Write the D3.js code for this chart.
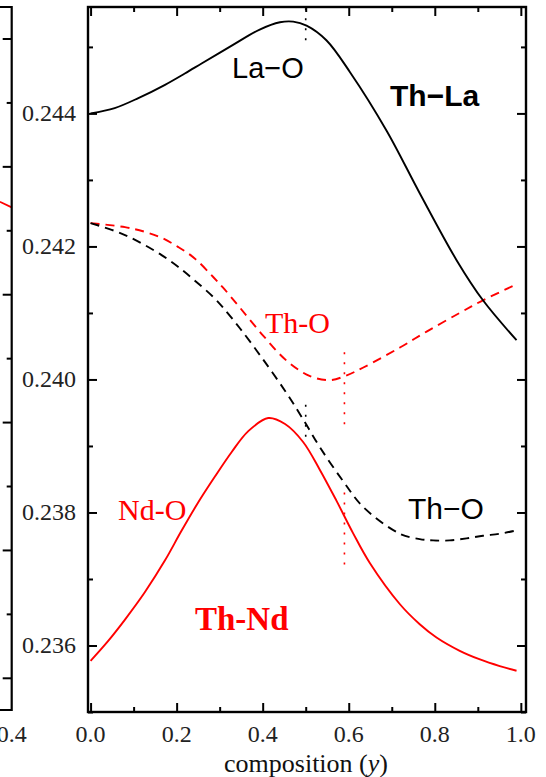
<!DOCTYPE html>
<html>
<head>
<meta charset="utf-8">
<script src="https://cdn.jsdelivr.net/npm/d3@7"></script>
<style>
  html, body { margin: 0; padding: 0; background: #fff; }
  svg { display: block; }
</style>
</head>
<body>
<svg id="chart" width="546" height="777"></svg>
<script>
// ---------- data (composition y, bond length) ----------
const xTicksMajor = [0.0, 0.2, 0.4, 0.6, 0.8, 1.0];
const xTicksMinor = [0.1, 0.3, 0.5, 0.7, 0.9];
const yTicksMajor = [0.236, 0.238, 0.240, 0.242, 0.244];
const yTicksMinor = [0.235, 0.237, 0.239, 0.241, 0.243, 0.245];
const xTickLabels = ["0.0", "0.2", "0.4", "0.6", "0.8", "1.0"];
const yTickLabels = ["0.236", "0.238", "0.240", "0.242", "0.244"];

// Th-La : La-O (black solid)
const laO_x = [0, 0.056, 0.111, 0.173, 0.219, 0.258, 0.331, 0.393, 0.440, 0.471, 0.502, 0.548, 0.603, 0.688, 0.765, 0.851, 0.912, 0.990];
const laO_y = [0.24400, 0.24408, 0.24423, 0.24443, 0.24460, 0.24475, 0.24503, 0.24526, 0.24537, 0.24538, 0.24532, 0.24510, 0.24462, 0.24374, 0.24280, 0.24179, 0.24119, 0.24059];

// Th-La : Th-O (black dashed)
const thOLa_x = [0, 0.049, 0.087, 0.126, 0.165, 0.204, 0.238, 0.285, 0.308, 0.347, 0.401, 0.456, 0.494, 0.533, 0.587, 0.634, 0.719, 0.765, 0.796, 0.835, 0.874, 0.912, 0.951, 0.990];
const thOLa_y = [0.24235, 0.24225, 0.24215, 0.24202, 0.24187, 0.24169, 0.24151, 0.24124, 0.24108, 0.24077, 0.24030, 0.23979, 0.23940, 0.23898, 0.23847, 0.23808, 0.23768, 0.23760, 0.23758, 0.23758, 0.23761, 0.23765, 0.23768, 0.23773];

// Th-Nd : Th-O (red dashed)
const thONd_x = [0, 0.080, 0.126, 0.165, 0.204, 0.242, 0.285, 0.308, 0.347, 0.401, 0.456, 0.510, 0.556, 0.591, 0.634, 0.719, 0.781, 0.858, 0.912, 0.990];
const thONd_y = [0.24235, 0.24229, 0.24222, 0.24213, 0.24199, 0.24182, 0.24154, 0.24138, 0.24108, 0.24066, 0.24028, 0.24005, 0.23999, 0.24005, 0.24018, 0.24048, 0.24072, 0.24100, 0.24119, 0.24143];

// Th-Nd : Nd-O (red solid)
const ndO_x = [0, 0.041, 0.080, 0.126, 0.173, 0.211, 0.250, 0.289, 0.328, 0.366, 0.413, 0.452, 0.494, 0.533, 0.572, 0.610, 0.649, 0.719, 0.765, 0.804, 0.858, 0.905, 0.951, 0.990];
const ndO_y = [0.23577, 0.23607, 0.23639, 0.23680, 0.23728, 0.23772, 0.23815, 0.23854, 0.23891, 0.23922, 0.23942, 0.23933, 0.23906, 0.23864, 0.23817, 0.23769, 0.23724, 0.23662, 0.23632, 0.23612, 0.23592, 0.23579, 0.23569, 0.23562];

// vertical dotted markers
const markLa_x = 0.5;
const markLa_segs = [[0.24558, 0.24499], [0.23962, 0.23912]];
const markNd_x = 0.59;
const markNd_segs = [[0.24041, 0.23929], [0.23830, 0.23717]];

// neighbouring (cut-off) panel on the left
const leftTicks = [0, 1, 2, 3, 4, 5, 6, 7, 8, 9, 10];
const leftLine_x = [0.389, 0.4];
const leftLine_y = [7.455, 7.367];
const leftXLabel = "0.4";

// ---------- drawing ----------
const svg = d3.select("#chart");
const L = 88, R = 526, T = 7, B = 712;
const x = d3.scaleLinear().domain([-0.006, 1.012]).range([L, R]);
const y = d3.scaleLinear().domain([0.235, 0.2456]).range([B, T]);

const serif = "'Liberation Serif','Times New Roman',serif";
const sans = "'Liberation Sans',Arial,Helvetica,sans-serif";

// left neighbour panel
const lx = d3.scaleLinear().domain([0, 0.4]).range([-420, 11.7]);
const ly = d3.scaleLinear().domain([0, 10]).range([678.3, 39]);
const lp = svg.append("g");
lp.append("path")
  .attr("d", d3.line()(leftLine_x.map((v, i) => [lx(v), ly(leftLine_y[i])])))
  .attr("fill", "none").attr("stroke", "#ff0000").attr("stroke-width", 1.8);
lp.append("path")
  .attr("d", `M0,${T}H${lx(0.4)}V${B - 2}H0`)
  .attr("fill", "none").attr("stroke", "#000").attr("stroke-width", 2.2);
leftTicks.forEach(t => {
  const len = (t % 2 === 0) ? 9 : 5;
  lp.append("line").attr("x1", lx(0.4) - len).attr("x2", lx(0.4))
    .attr("y1", ly(t)).attr("y2", ly(t)).attr("stroke", "#000").attr("stroke-width", 2);
});
lp.append("text").attr("x", lx(0.4)).attr("y", 742)
  .attr("text-anchor", "middle").attr("font-family", serif).attr("font-size", 24)
  .attr("fill", "#222").text(leftXLabel);

// main frame
const g = svg.append("g");

// curves
const line = d3.line().curve(d3.curveCatmullRom.alpha(0.5));
function series(xs, ys) { return xs.map((v, i) => [x(v), y(ys[i])]); }

g.append("path").attr("d", line(series(thONd_x, thONd_y)))
  .attr("fill", "none").attr("stroke", "#ff0000").attr("stroke-width", 1.9)
  .attr("stroke-dasharray", "9,6");
g.append("path").attr("d", line(series(thOLa_x, thOLa_y)))
  .attr("fill", "none").attr("stroke", "#000").attr("stroke-width", 1.9)
  .attr("stroke-dasharray", "9,6");
g.append("path").attr("d", line(series(ndO_x, ndO_y)))
  .attr("fill", "none").attr("stroke", "#ff0000").attr("stroke-width", 1.9);
g.append("path").attr("d", line(series(laO_x, laO_y)))
  .attr("fill", "none").attr("stroke", "#000").attr("stroke-width", 1.9);

// dotted markers
markLa_segs.forEach(s => {
  g.append("line").attr("x1", x(markLa_x)).attr("x2", x(markLa_x))
    .attr("y1", y(s[0])).attr("y2", y(s[1]))
    .attr("stroke", "#000").attr("stroke-width", 1.6).attr("stroke-dasharray", "2,8");
});
markNd_segs.forEach(s => {
  g.append("line").attr("x1", x(markNd_x)).attr("x2", x(markNd_x))
    .attr("y1", y(s[0])).attr("y2", y(s[1]))
    .attr("stroke", "#ff0000").attr("stroke-width", 1.6).attr("stroke-dasharray", "2,8");
});

// axes (ticks inward, mirrored)
function tickSet(axis, vals, len) {
  return axis.tickValues(vals).tickSize(len).tickFormat("");
}
const axStyle = sel => {
  sel.select(".domain").remove();
  sel.selectAll(".tick line").attr("stroke", "#000").attr("stroke-width", 2);
};
g.append("g").attr("transform", `translate(0,${B})`).call(tickSet(d3.axisTop(x), xTicksMajor, 9)).call(axStyle);
g.append("g").attr("transform", `translate(0,${B})`).call(tickSet(d3.axisTop(x), xTicksMinor, 5)).call(axStyle);
g.append("g").attr("transform", `translate(0,${T})`).call(tickSet(d3.axisBottom(x), xTicksMajor, 9)).call(axStyle);
g.append("g").attr("transform", `translate(0,${T})`).call(tickSet(d3.axisBottom(x), xTicksMinor, 5)).call(axStyle);
g.append("g").attr("transform", `translate(${L},0)`).call(tickSet(d3.axisRight(y), yTicksMajor, 9)).call(axStyle);
g.append("g").attr("transform", `translate(${L},0)`).call(tickSet(d3.axisRight(y), yTicksMinor, 5)).call(axStyle);
g.append("g").attr("transform", `translate(${R},0)`).call(tickSet(d3.axisLeft(y), yTicksMajor, 9)).call(axStyle);
g.append("g").attr("transform", `translate(${R},0)`).call(tickSet(d3.axisLeft(y), yTicksMinor, 5)).call(axStyle);

g.append("rect").attr("x", L).attr("y", T).attr("width", R - L).attr("height", B - T)
  .attr("fill", "none").attr("stroke", "#000").attr("stroke-width", 2.4);

// tick labels
xTicksMajor.forEach((v, i) => {
  g.append("text").attr("x", x(v)).attr("y", 742).attr("text-anchor", "middle")
    .attr("font-family", serif).attr("font-size", 24).attr("fill", "#222").text(xTickLabels[i]);
});
yTicksMajor.forEach((v, i) => {
  g.append("text").attr("x", 76).attr("y", y(v) + 8).attr("text-anchor", "end")
    .attr("font-family", serif).attr("font-size", 24).attr("fill", "#222").text(yTickLabels[i]);
});

// axis title
const title = g.append("text").attr("x", 306).attr("y", 772).attr("text-anchor", "middle")
  .attr("font-family", serif).attr("font-size", 26).attr("fill", "#111");
title.append("tspan").text("composition (");
title.append("tspan").attr("font-style", "italic").text("y");
title.append("tspan").text(")");

// annotations
g.append("text").attr("x", 232).attr("y", 78).attr("font-family", sans).attr("font-size", 29)
  .attr("fill", "#000").text("La\u2212O");
g.append("text").attr("x", 390).attr("y", 106).attr("font-family", sans).attr("font-size", 30)
  .attr("font-weight", "bold").attr("fill", "#000").text("Th\u2212La");
g.append("text").attr("x", 265).attr("y", 333).attr("font-family", serif).attr("font-size", 30)
  .attr("fill", "#ff0000").text("Th-O");
g.append("text").attr("x", 408).attr("y", 519).attr("font-family", sans).attr("font-size", 30)
  .attr("fill", "#000").text("Th\u2212O");
g.append("text").attr("x", 118).attr("y", 520).attr("font-family", serif).attr("font-size", 30)
  .attr("fill", "#ff0000").text("Nd-O");
g.append("text").attr("x", 195).attr("y", 630).attr("font-family", serif).attr("font-size", 33)
  .attr("font-weight", "bold").attr("fill", "#ff0000").text("Th-Nd");
</script>
</body>
</html>
